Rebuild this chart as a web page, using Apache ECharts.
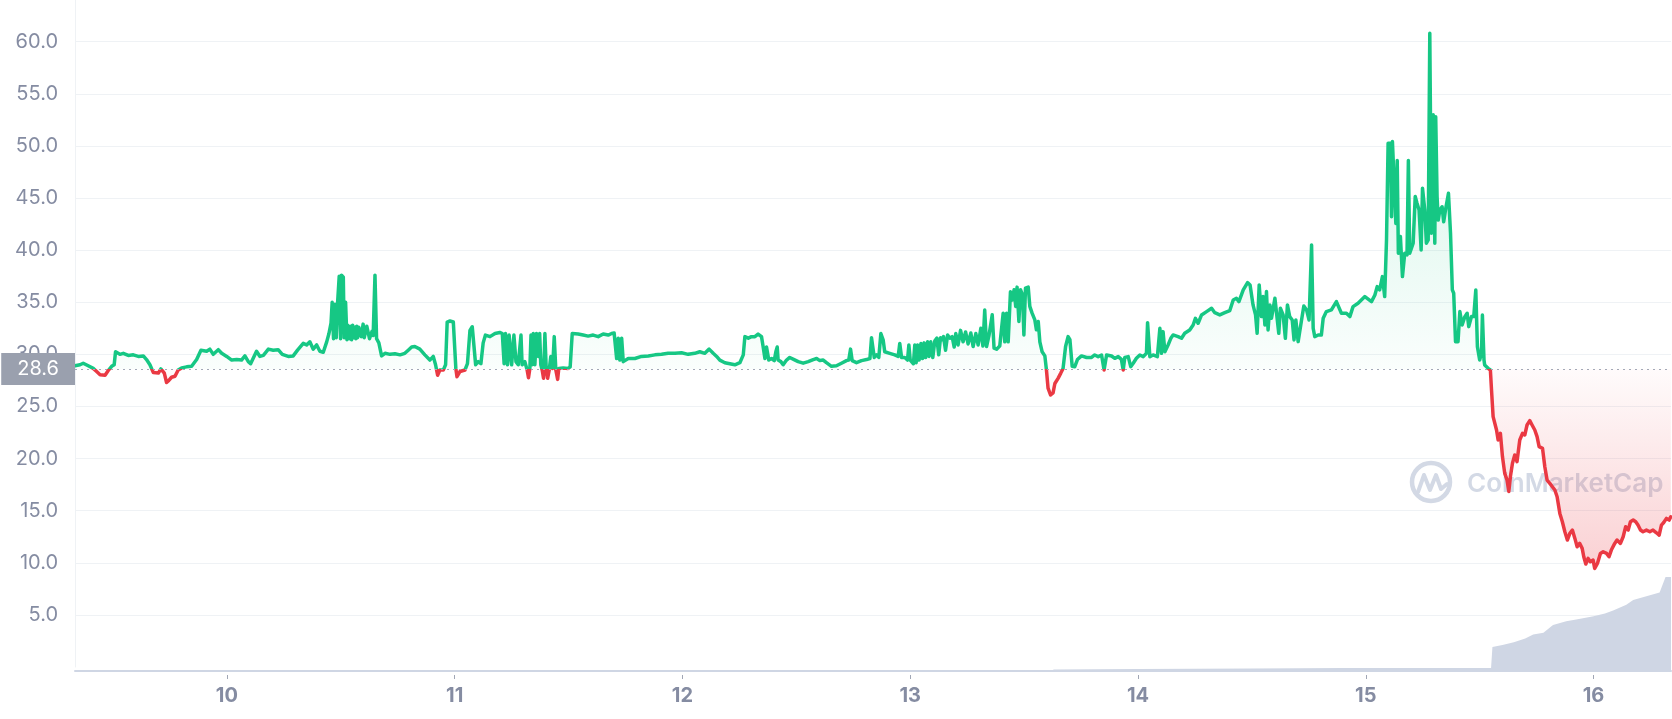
<!DOCTYPE html>
<html><head><meta charset="utf-8">
<script src="https://cdn.jsdelivr.net/npm/echarts@6/dist/echarts.min.js"></script>
<style>html,body{margin:0;padding:0;background:#fff}#c{width:1672px;height:719px}</style>
</head><body><div id="c"></div>
<script>
// ---- data (x = day of month, y = price) ----
const dayTicks = [10, 11, 12, 13, 14, 15, 16];
const openPrice = 28.6;
const xMin = 9.333, xMax = 16.34;

const priceSec1 = [[9.333,28.9],[9.355,29.0],[9.369,29.15],[9.391,28.9],[9.413,28.65],[9.428,28.35],[9.443,28.05],[9.465,28.0],[9.479,28.45],[9.494,28.85],[9.505,29.0],[9.511,30.25],[9.530,30.0],[9.545,30.1],[9.567,29.9],[9.589,29.95],[9.611,29.8],[9.633,29.85],[9.647,29.5],[9.662,29.0],[9.677,28.25],[9.699,28.2],[9.710,28.6],[9.725,28.2],[9.735,27.3],[9.745,27.5],[9.757,27.8],[9.772,27.9],[9.786,28.5],[9.801,28.7],[9.823,28.8],[9.845,28.85],[9.867,29.5],[9.886,30.4],[9.911,30.3],[9.925,30.5],[9.940,30.0],[9.962,30.45],[9.977,30.1],[9.999,29.8],[10.021,29.45],[10.043,29.5],[10.064,29.45],[10.079,29.85],[10.094,29.3],[10.104,29.1],[10.130,30.3],[10.145,29.8],[10.160,29.9],[10.182,30.5],[10.203,30.4],[10.225,30.45],[10.243,30.0],[10.269,29.8],[10.291,29.85],[10.310,30.4],[10.335,31.05],[10.350,30.9],[10.364,31.2],[10.379,30.5],[10.394,30.9],[10.408,30.3],[10.423,30.2],[10.438,31.2],[10.448,32.0],[10.457,33.0],[10.462,35.0],[10.468,31.5],[10.474,34.8],[10.480,31.6],[10.486,35.0],[10.493,37.5],[10.499,31.5],[10.503,37.6],[10.511,37.4],[10.515,31.6],[10.521,35.0],[10.527,31.4],[10.531,32.8],[10.536,32.9],[10.540,31.5],[10.544,32.7],[10.547,31.4],[10.552,32.8],[10.557,31.6],[10.562,32.6],[10.566,31.5],[10.570,32.7],[10.574,31.6],[10.579,32.6],[10.585,32.5],[10.590,31.7],[10.598,32.9],[10.603,31.6],[10.609,31.6],[10.614,32.7],[10.621,32.8],[10.626,31.5],[10.632,31.4],[10.637,32.2],[10.642,31.8],[10.650,37.6],[10.657,31.5],[10.667,31.1],[10.679,29.85],[10.694,30.1],[10.716,30.0],[10.738,30.05],[10.760,29.95],[10.781,30.1],[10.796,30.4],[10.811,30.7],[10.825,30.75]];

const priceSec2 = [[10.847,30.5],[10.869,29.95],[10.891,29.45],[10.906,29.8],[10.916,29.0],[10.925,28.0],[10.935,28.5],[10.950,28.5],[10.960,29.0],[10.967,33.1],[10.979,33.2],[10.994,33.1],[11.001,33.0],[11.005,28.65],[11.010,27.85],[11.023,28.35],[11.045,28.5],[11.056,29.1],[11.067,32.3],[11.077,32.65],[11.084,32.5],[11.092,29.0],[11.103,29.3],[11.115,29.1],[11.125,31.1],[11.135,31.85],[11.155,31.7],[11.177,32.0],[11.198,32.1],[11.209,32.0],[11.217,29.1],[11.223,32.0],[11.232,29.0],[11.239,31.85],[11.250,29.0],[11.260,31.85],[11.269,29.3],[11.279,29.0],[11.291,31.85],[11.296,29.0],[11.308,29.3],[11.318,28.5],[11.324,27.75],[11.330,28.65],[11.335,31.85],[11.340,29.0],[11.345,32.0],[11.352,29.0],[11.359,32.0],[11.367,29.8],[11.373,32.0],[11.378,29.0],[11.384,28.5],[11.390,27.7],[11.396,32.0],[11.402,28.5],[11.408,27.7],[11.415,28.5],[11.422,29.8],[11.430,28.65],[11.437,31.7],[11.444,28.5],[11.452,27.6],[11.457,28.65],[11.476,28.7],[11.498,28.65],[11.507,28.8],[11.516,32.0],[11.542,31.95],[11.564,31.85],[11.586,31.75],[11.608,31.85],[11.630,31.7],[11.652,31.95],[11.674,31.85],[11.689,32.0],[11.700,32.05],[11.708,32.0],[11.711,29.6],[11.718,31.55],[11.725,29.45],[11.733,31.55],[11.740,29.3],[11.762,29.6],[11.791,29.6],[11.820,29.8],[11.850,29.85],[11.879,29.95],[11.908,30.0],[11.937,30.1],[11.967,30.1],[11.996,30.15],[12.025,30.0],[12.054,30.1],[12.076,30.25],[12.098,30.1],[12.117,30.5],[12.135,30.1],[12.150,29.8],[12.164,29.45],[12.186,29.2],[12.208,29.1],[12.230,29.0],[12.252,29.2],[12.267,29.95],[12.274,31.7],[12.289,31.55],[12.303,31.7]];

const priceSec3 = [[12.318,31.7],[12.332,31.95],[12.347,31.7],[12.354,30.75],[12.362,29.6],[12.369,30.7],[12.379,29.45],[12.391,29.6],[12.403,29.4],[12.410,30.25],[12.416,30.7],[12.420,29.45],[12.432,29.3],[12.442,29.0],[12.457,29.45],[12.471,29.7],[12.490,29.5],[12.508,29.3],[12.530,29.15],[12.552,29.3],[12.574,29.5],[12.589,29.6],[12.603,29.4],[12.618,29.45],[12.632,29.2],[12.654,28.85],[12.676,28.9],[12.698,29.15],[12.720,29.4],[12.730,29.45],[12.738,30.5],[12.745,29.4],[12.764,29.2],[12.786,29.4],[12.808,29.5],[12.823,29.6],[12.830,31.6],[12.837,31.55],[12.842,29.7],[12.852,29.95],[12.862,29.7],[12.871,32.0],[12.881,31.4],[12.888,30.25],[12.910,30.1],[12.932,29.95],[12.947,29.8],[12.954,31.05],[12.962,29.7],[12.976,29.7],[12.988,29.45],[12.994,30.9],[13.000,29.45],[13.006,29.3],[13.014,29.1],[13.020,30.9],[13.026,29.2],[13.032,30.9],[13.039,29.45],[13.047,31.05],[13.054,29.6],[13.061,31.1],[13.068,29.7],[13.076,31.2],[13.083,29.8],[13.090,31.2],[13.099,29.7],[13.108,31.3],[13.117,31.55],[13.125,29.95],[13.133,31.6],[13.140,31.4],[13.146,31.7],[13.155,30.4],[13.164,31.85],[13.174,31.55],[13.184,31.7],[13.193,30.7],[13.200,32.0],[13.210,30.9],[13.221,32.3],[13.232,31.2],[13.243,32.15],[13.254,31.0],[13.266,32.05],[13.276,30.75],[13.288,32.0],[13.298,30.9],[13.310,32.5],[13.319,30.8],[13.327,34.25],[13.335,30.75],[13.346,31.85],[13.360,33.8],[13.368,30.6],[13.379,30.5],[13.393,30.8],[13.408,33.95],[13.415,31.2],[13.423,33.95],[13.430,31.2],[13.440,36.0],[13.447,35.2],[13.456,36.2],[13.463,34.6],[13.469,36.45],[13.477,33.15],[13.484,36.2],[13.493,35.7],[13.499,31.85],[13.506,36.35],[13.518,36.45],[13.525,34.6],[13.535,33.95],[13.547,33.3],[13.554,32.35],[13.562,33.15],[13.569,31.2],[13.579,30.25],[13.591,29.85],[13.598,28.5],[13.605,26.75],[13.616,26.1],[13.627,26.3],[13.635,27.2],[13.649,27.7],[13.661,28.2],[13.671,28.65],[13.682,30.75],[13.693,31.7],[13.701,31.4],[13.711,28.85],[13.722,28.8],[13.734,29.5],[13.752,29.85],[13.774,29.7],[13.796,29.7]];

const priceSec4 = [[13.810,29.94],[13.825,29.78],[13.840,29.94],[13.851,28.5],[13.862,29.94],[13.884,29.84],[13.898,29.62],[13.913,29.78],[13.927,29.52],[13.935,28.5],[13.942,29.71],[13.957,29.78],[13.968,28.82],[13.979,29.14],[13.993,29.62],[14.008,29.94],[14.023,29.78],[14.037,30.10],[14.042,33.04],[14.052,29.78],[14.066,29.94],[14.085,29.78],[14.096,32.50],[14.103,30.10],[14.110,32.18],[14.118,30.26],[14.132,30.9],[14.144,31.54],[14.154,31.86],[14.176,31.70],[14.191,31.54],[14.205,32.02],[14.227,32.34],[14.242,32.82],[14.252,33.46],[14.264,32.98],[14.279,33.78],[14.301,34.10],[14.323,34.42],[14.337,34.0],[14.359,33.78],[14.381,34.0],[14.403,34.2],[14.418,35.22],[14.432,35.38],[14.443,35.06],[14.462,36.18],[14.481,36.88],[14.492,36.66],[14.505,34.74],[14.516,33.78],[14.523,32.02],[14.532,36.66],[14.542,33.62],[14.549,35.54],[14.557,32.82],[14.564,36.02],[14.571,32.34],[14.579,34.74],[14.586,33.46],[14.601,35.38],[14.608,35.38],[14.618,32.02],[14.625,34.42],[14.637,33.78],[14.647,31.54],[14.656,34.74],[14.666,33.62],[14.677,33.30],[14.685,31.38],[14.693,33.30],[14.703,31.22]];

const priceSec5 = [[14.710,31.38],[14.718,33.3],[14.728,34.64],[14.740,34.26],[14.751,33.3],[14.762,40.5],[14.769,32.5],[14.776,31.7],[14.791,31.86],[14.805,31.86],[14.813,33.46],[14.827,34.1],[14.849,34.26],[14.871,35.06],[14.893,33.94],[14.915,33.94],[14.930,33.62],[14.944,34.58],[14.966,34.9],[14.996,35.54],[15.025,35.06],[15.040,35.7],[15.050,36.5],[15.061,36.18],[15.073,37.46],[15.083,35.54],[15.091,40.98],[15.098,50.26],[15.108,50.26],[15.113,43.2],[15.117,50.42],[15.124,50.26],[15.132,42.56],[15.138,48.6],[15.143,39.7],[15.152,41.3],[15.161,37.46],[15.171,39.7],[15.181,39.54],[15.187,48.6],[15.193,39.7],[15.208,40.66],[15.217,45.14],[15.225,44.5],[15.234,43.86],[15.243,40.02],[15.249,45.94],[15.259,43.86],[15.266,40.66],[15.274,40.98],[15.281,60.8],[15.288,41.62],[15.296,52.98],[15.303,40.66],[15.307,52.8],[15.313,45.14],[15.318,42.88],[15.325,43.84],[15.335,44.16],[15.342,42.72],[15.351,44.0],[15.363,45.46],[15.372,41.62],[15.380,36.18],[15.386,35.86],[15.394,31.22],[15.405,31.22],[15.413,34.1],[15.423,32.82],[15.435,33.62],[15.445,33.94],[15.452,32.66],[15.464,33.62],[15.474,33.62],[15.483,36.18],[15.490,30.74],[15.500,29.46],[15.508,30.1],[15.512,33.78],[15.519,29.46],[15.522,28.98],[15.537,28.66],[15.547,28.5],[15.552,26.58],[15.559,24.02],[15.574,22.74],[15.581,21.78],[15.591,22.42],[15.600,20.19],[15.610,18.58],[15.620,17.95],[15.628,16.83],[15.635,18.27],[15.644,19.55],[15.654,20.35],[15.664,19.71],[15.676,21.78],[15.688,22.42],[15.698,22.26],[15.708,23.22],[15.720,23.64],[15.730,23.22],[15.742,22.74],[15.752,22.10],[15.761,21.14],[15.776,20.98],[15.786,19.22],[15.796,17.94],[15.808,17.62],[15.819,17.30],[15.830,16.98],[15.840,16.34],[15.852,14.74],[15.863,13.94],[15.874,12.98],[15.885,12.18],[15.896,12.82],[15.907,13.14],[15.918,12.34],[15.928,11.54],[15.939,11.86],[15.950,11.38],[15.957,10.58],[15.966,9.88],[15.976,10.42],[15.986,10.10],[15.998,10.26],[16.005,9.46],[16.017,9.94],[16.030,10.90],[16.042,11.06],[16.057,10.90],[16.068,10.58],[16.078,11.22],[16.093,11.86],[16.103,12.18],[16.118,11.86],[16.130,12.50],[16.141,13.46],[16.152,13.14],[16.162,13.94],[16.174,14.10],[16.185,13.94],[16.195,13.62],[16.206,13.14],[16.217,12.98],[16.232,13.14],[16.247,12.98],[16.261,13.14],[16.276,12.88],[16.288,12.66],[16.298,13.62],[16.308,13.86],[16.320,14.26],[16.332,14.10],[16.339,14.42]];

// volume (relative units, unlabeled in the picture)
const volume = [[9.333,0],[13.62,0],[13.63,1.5],[14.0,2],[14.5,2.5],[14.9,3],[15.55,3],[15.556,25],[15.6,27],[15.65,30],[15.7,34],[15.735,38],[15.78,40],[15.822,48],[15.88,52],[15.93,54],[16.0,57],[16.05,60],[16.086,63],[16.144,69],[16.174,74],[16.232,78],[16.29,82],[16.316,98],[16.34,98]];

const prices = [].concat(priceSec1, priceSec2, priceSec3, priceSec4, priceSec5);

const GREEN = '#16c784', RED = '#ea3943';
const LABEL = '#858ca2';
const FONT = 'Inter, "Noto Sans", sans-serif';
const WM = '#d3d9e5';

const chart = echarts.init(document.getElementById('c'), null, {renderer: 'canvas'});

const option = {
  animation: false,
  backgroundColor: '#ffffff',
  textStyle: {fontFamily: FONT},
  grid: [
    {left: 75, right: 1, top: 0, bottom: 52},
    {left: 75, right: 1, top: 0, bottom: 48}
  ],
  xAxis: [
    {gridIndex: 0, type: 'value', min: xMin, max: xMax, show: false},
    {gridIndex: 1, type: 'value', min: xMin, max: xMax, position: 'bottom',
      axisLine: {show: true, lineStyle: {color: '#cfd6e4', width: 2}},
      axisTick: {show: false}, axisLabel: {show: false}, splitLine: {show: false}},
    {gridIndex: 1, type: 'value', min: xMin, max: xMax, position: 'bottom', offset: 4,
      axisLine: {show: false},
      axisTick: {show: true, customValues: dayTicks, length: 4, lineStyle: {color: '#a1a7b5', width: 1}},
      axisLabel: {customValues: dayTicks, fontSize: 20, fontWeight: 'bold', color: LABEL, margin: 11, fontFamily: FONT},
      splitLine: {show: false}}
  ],
  yAxis: [
    {gridIndex: 0, type: 'value', min: 0, max: 64, interval: 5,
      axisLine: {show: true, lineStyle: {color: '#eff2f5', width: 1}},
      axisTick: {show: false},
      axisLabel: {fontSize: 20, color: LABEL, margin: 17, fontFamily: FONT,
        formatter: v => (v > 0 && Math.abs(v % 5) < 1e-6) ? v.toFixed(1) : ''},
      splitLine: {show: true, showMinLine: false, showMaxLine: false, lineStyle: {color: '#eff2f5', width: 1}}},
    {gridIndex: 1, type: 'value', min: 0, max: 700, show: false, splitLine: {show: false}}
  ],
  graphic: [
    {type: 'circle', silent: true, z: 1, shape: {cx: 1431, cy: 482, r: 19}, style: {fill: 'none', stroke: WM, lineWidth: 4.5}},
    {type: 'polyline', silent: true, z: 1, shape: {points: [[1418, 492], [1424, 475], [1430, 490], [1436, 475], [1441, 489], [1447, 484]]},
      style: {fill: 'none', stroke: WM, lineWidth: 4, lineJoin: 'round', lineCap: 'round'}},
    {type: 'text', silent: true, z: 1, x: 1467, y: 484,
      style: {text: 'CoinMarketCap', font: '600 26px Inter, sans-serif', fill: WM, verticalAlign: 'middle', align: 'left'}}
  ],
  series: [
    {type: 'line', xAxisIndex: 1, yAxisIndex: 1, data: volume, symbol: 'none', silent: true, z: 1,
      lineStyle: {width: 0}, areaStyle: {color: '#cfd6e4', opacity: 1}},
    {type: 'line', xAxisIndex: 0, yAxisIndex: 0, data: prices, symbol: 'none', silent: true, z: 3,
      lineStyle: {width: 3.5, join: 'round', cap: 'round', color: GREEN},
      areaStyle: {origin: openPrice, opacity: 1, color: 'rgba(22,199,132,0.08)'},
      markLine: {
        symbol: ['none', 'none'], silent: true, animation: false,
        data: [{yAxis: openPrice}],
        lineStyle: {color: '#a3a9b7', type: [2, 4], width: 1},
        label: {show: true, position: 'start', distance: 0, formatter: String(openPrice),
          color: '#ffffff', fontSize: 20, fontFamily: FONT, backgroundColor: '#9aa0ae',
          padding: [6, 16, 6, 16], lineHeight: 20}
      }}
  ]
};
chart.setOption(option);

// global vertical gradients anchored to the open-price baseline (green above, red below)
const yTop = chart.convertToPixel({gridIndex: 0}, [xMin, 64])[1];
const yBot = chart.convertToPixel({gridIndex: 0}, [xMin, 0])[1];
const yBase = chart.convertToPixel({gridIndex: 0}, [xMin, openPrice])[1];
const b = (yBase - yTop) / (yBot - yTop);
const grad = stops => ({type: 'linear', x: 0, y: yTop, x2: 0, y2: yBot, global: true, colorStops: stops});
chart.setOption({series: [{}, {
  lineStyle: {color: grad([
    {offset: 0, color: GREEN}, {offset: b, color: GREEN},
    {offset: b, color: RED}, {offset: 1, color: RED}])},
  areaStyle: {color: grad([
    {offset: 0, color: 'rgba(22,199,132,0.24)'},
    {offset: b, color: 'rgba(22,199,132,0.02)'},
    {offset: b, color: 'rgba(234,57,67,0.02)'},
    {offset: 1, color: 'rgba(234,57,67,0.34)'}])}
}]});
</script></body></html>
